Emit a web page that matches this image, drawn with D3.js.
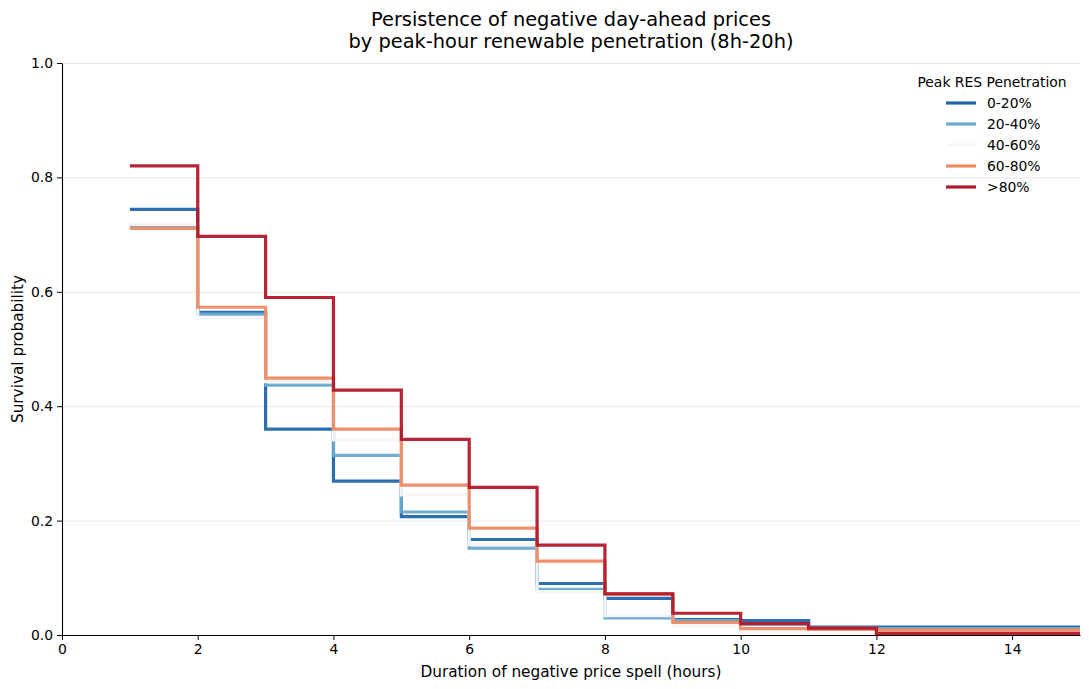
<!DOCTYPE html>
<html>
<head>
<meta charset="utf-8">
<script src="https://cdn.jsdelivr.net/npm/d3@7"></script>
<style>
  body { margin: 0; background: #fff; }
  text { font-family: "DejaVu Sans", sans-serif; fill: #000; }
  .grid line { stroke: #e6e6e6; stroke-width: 1; }
  .grid path { display: none; }
</style>
</head>
<body>
<svg id="chart" width="1089" height="689"></svg>
<script>
// durations (hours) at which each step starts
const durations = [1, 2, 3, 4, 5, 6, 7, 8, 9, 10, 11, 12, 13, 14];

const groups = ["0-20%", "20-40%", "40-60%", "60-80%", ">80%"];
const colors = ["#2166ac", "#67a9cf", "#f7f7f7", "#ef8a62", "#b2182b"];

// survival probability per group
const s0_20  = [0.744, 0.564, 0.360, 0.269, 0.207, 0.167, 0.090, 0.064, 0.027, 0.025, 0.014, 0.014, 0.014, 0.014];
const s20_40 = [0.716, 0.561, 0.437, 0.314, 0.215, 0.152, 0.080, 0.030, 0.025, 0.019, 0.012, 0.011, 0.011, 0.011];
const s40_60 = [0.718, 0.554, 0.443, 0.341, 0.245, 0.158, 0.076, 0.034, 0.016, 0.005, 0.003, 0.001, 0.001, 0.001];
const s60_80 = [0.711, 0.573, 0.449, 0.360, 0.262, 0.187, 0.129, 0.072, 0.022, 0.011, 0.010, 0.009, 0.009, 0.009];
const s80    = [0.820, 0.697, 0.590, 0.428, 0.342, 0.258, 0.157, 0.072, 0.038, 0.020, 0.012, 0.003, 0.003, 0.003];
const series = [s0_20, s20_40, s40_60, s60_80, s80];

const xTicks = [0, 2, 4, 6, 8, 10, 12, 14];
const yTicks = [0, 0.2, 0.4, 0.6, 0.8, 1.0];

const svg = d3.select("#chart");
const mLeft = 62, mRight = 1080, mTop = 63, mBottom = 635;

let x = d3.scaleLinear().domain([0, 15]).range([mLeft, mRight]);
let y = d3.scaleLinear().domain([0, 1]).range([mBottom, mTop]);

// horizontal grid
svg.append("g")
    .attr("class", "grid")
    .attr("transform", "translate(" + mLeft + ",0)")
    .call(d3.axisLeft(y).tickValues(yTicks).tickSize(-(mRight - mLeft)).tickFormat(""));

// step lines
let line = d3.line()
    .x(d => x(d[0]))
    .y(d => y(d[1]))
    .curve(d3.curveStepAfter);

svg.append("clipPath").attr("id", "clip")
    .append("rect").attr("x", mLeft).attr("y", mTop - 5).attr("width", mRight - mLeft).attr("height", mBottom - mTop + 10);

let plot = svg.append("g").attr("clip-path", "url(#clip)");
series.forEach((vals, i) => {
    let pts = durations.map((d, j) => [d, vals[j]]);
    pts.push([15, vals[vals.length - 1]]);
    plot.append("path")
        .attr("d", line(pts))
        .attr("fill", "none")
        .attr("stroke", colors[i])
        .attr("stroke-width", 3.2)
        .attr("stroke-opacity", 0.95);
});

// axes
let xAxis = svg.append("g")
    .attr("transform", "translate(0," + mBottom + ")")
    .call(d3.axisBottom(x).tickValues(xTicks).tickSize(5).tickSizeOuter(0).tickPadding(4));
let yAxis = svg.append("g")
    .attr("transform", "translate(" + mLeft + ",0)")
    .call(d3.axisLeft(y).tickValues(yTicks).tickFormat(d3.format(".1f")).tickSize(5).tickSizeOuter(0).tickPadding(4));
[xAxis, yAxis].forEach(a => {
    a.selectAll("text").style("font-size", "13.9px").style("font-family", "DejaVu Sans");
    a.select(".domain").attr("stroke", "#000").attr("stroke-width", 1.1);
});

// title
svg.append("text").attr("x", (mLeft + mRight) / 2).attr("y", 25.5)
    .attr("text-anchor", "middle").style("font-size", "19.4px")
    .text("Persistence of negative day-ahead prices");
svg.append("text").attr("x", (mLeft + mRight) / 2).attr("y", 48)
    .attr("text-anchor", "middle").style("font-size", "19.4px")
    .text("by peak-hour renewable penetration (8h-20h)");

// axis labels
svg.append("text").attr("x", (mLeft + mRight) / 2).attr("y", 677)
    .attr("text-anchor", "middle").style("font-size", "15.3px")
    .text("Duration of negative price spell (hours)");
svg.append("text")
    .attr("transform", "translate(23," + (mTop + mBottom) / 2 + ") rotate(-90)")
    .attr("text-anchor", "middle").style("font-size", "15.3px")
    .text("Survival probability");

// legend
let legend = svg.append("g");
legend.append("text").attr("x", 992).attr("y", 87)
    .attr("text-anchor", "middle").style("font-size", "13.9px")
    .text("Peak RES Penetration");
groups.forEach((g, i) => {
    let ly = 103 + i * 21;
    legend.append("line")
        .attr("x1", 946).attr("x2", 976).attr("y1", ly).attr("y2", ly)
        .attr("stroke", colors[i]).attr("stroke-width", 3.2);
    legend.append("text").attr("x", 987).attr("y", ly + 5)
        .style("font-size", "13.9px").text(g);
});
</script>
</body>
</html>
